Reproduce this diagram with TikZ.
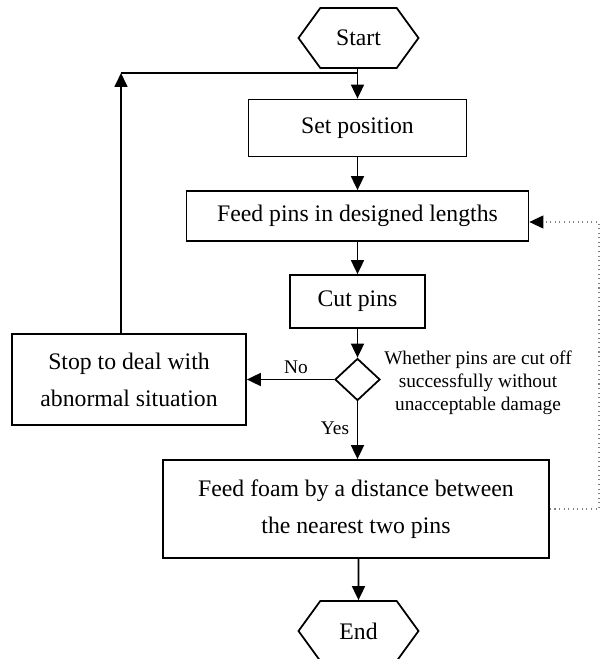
\documentclass[tikz,border=0pt]{standalone}
\usepackage{fontspec}
\setmainfont{Liberation Serif}
\usepackage{tikz}
\usetikzlibrary{shapes.geometric, shapes.symbols, arrows.meta, positioning, calc}
\tikzset{
  procbox/.style  = {rectangle, draw, line width=1pt, align=center,
                     minimum width=#1, font=\fontsize{13.5}{21}\selectfont},
  procbox/.default = 4cm,
  terminal/.style = {signal, signal to=east and west, signal pointer angle=108,
                     draw, line width=1pt, minimum width=2.4cm, minimum height=1.2cm,
                     inner xsep=0pt, font=\fontsize{13.5}{15}\selectfont},
  decision/.style = {diamond, draw, line width=1pt, minimum width=0.9cm,
                     minimum height=0.84cm, inner sep=0pt},
  arrow/.style    = {-{Triangle[length=2.8mm, width=2.6mm]}, line width=1pt},
  dotarrow/.style = {-{Triangle[length=2.8mm, width=2.6mm, color=black]},
                     dotted, gray, line width=0.6pt},
  note/.style     = {font=\fontsize{11}{13}\selectfont, align=center},
}
\begin{document}
\begin{tikzpicture}
  \useasboundingbox (0,0) rectangle (12,13.18);

  %--- Main column ----------------------------------------------------------
  \node[terminal] at (7.17, 12.42) (start) {Start};
  \node[procbox=4.36cm, minimum height=1.14cm] at (7.15, 10.62) (setpos) {Set position};
  \node[procbox=6.84cm, minimum height=1.0cm] at (7.15, 8.86) (feedpins) {Feed pins in designed lengths};
  \node[procbox=2.7cm, minimum height=1.06cm] at (7.15, 7.15) (cutpins) {Cut pins};
  \node[decision] at (7.15, 5.59) (check) {};
  \node[procbox=4.68cm, minimum height=1.82cm] at (2.58, 5.59) (stop) {Stop to deal with\\abnormal situation};
  \node[procbox=7.72cm, minimum height=1.96cm] at (7.12, 3.0) (feedfoam) {Feed foam by a distance between\\the nearest two pins};
  \node[terminal] at (7.17, 0.56) (end) {End};

  %--- Labels ---------------------------------------------------------------
  \node[note] at (9.56, 5.52) (question) {Whether pins are cut off\\successfully without\\unacceptable damage};
  \node[note] at (5.92, 5.84) (nolbl) {No};
  \node[note] at (6.7, 4.62) (yeslbl) {Yes};

  %--- Helper coordinates ---------------------------------------------------
  \coordinate (loop) at (2.42, 11.72);
  \coordinate (dotr) at (11.98, 0);

  %--- Edges ----------------------------------------------------------------
  \draw[arrow] (start.south -| setpos) -- (setpos);
  \draw[arrow] (setpos) -- (feedpins);
  \draw[arrow] (feedpins) -- (cutpins);
  \draw[arrow] (cutpins) -- (check);
  \draw[arrow] (check) -- (stop);
  \draw[arrow] (check) -- (feedfoam.north -| check);
  \draw[arrow] (feedfoam.south -| end) -- (end);

  % Back to start of cycle after abnormal stop
  \draw[arrow] (stop.north -| loop) -- (loop);
  \draw[line width=1pt] (loop) -- (loop -| setpos);

  % Repeat feeding
  \draw[dotarrow] (feedfoam.east) -- (feedfoam.east -| dotr)
        -- ($(feedpins.east -| dotr)+(0,-0.12)$) -- ($(feedpins.east)+(0,-0.12)$);

\end{tikzpicture}
\end{document}
